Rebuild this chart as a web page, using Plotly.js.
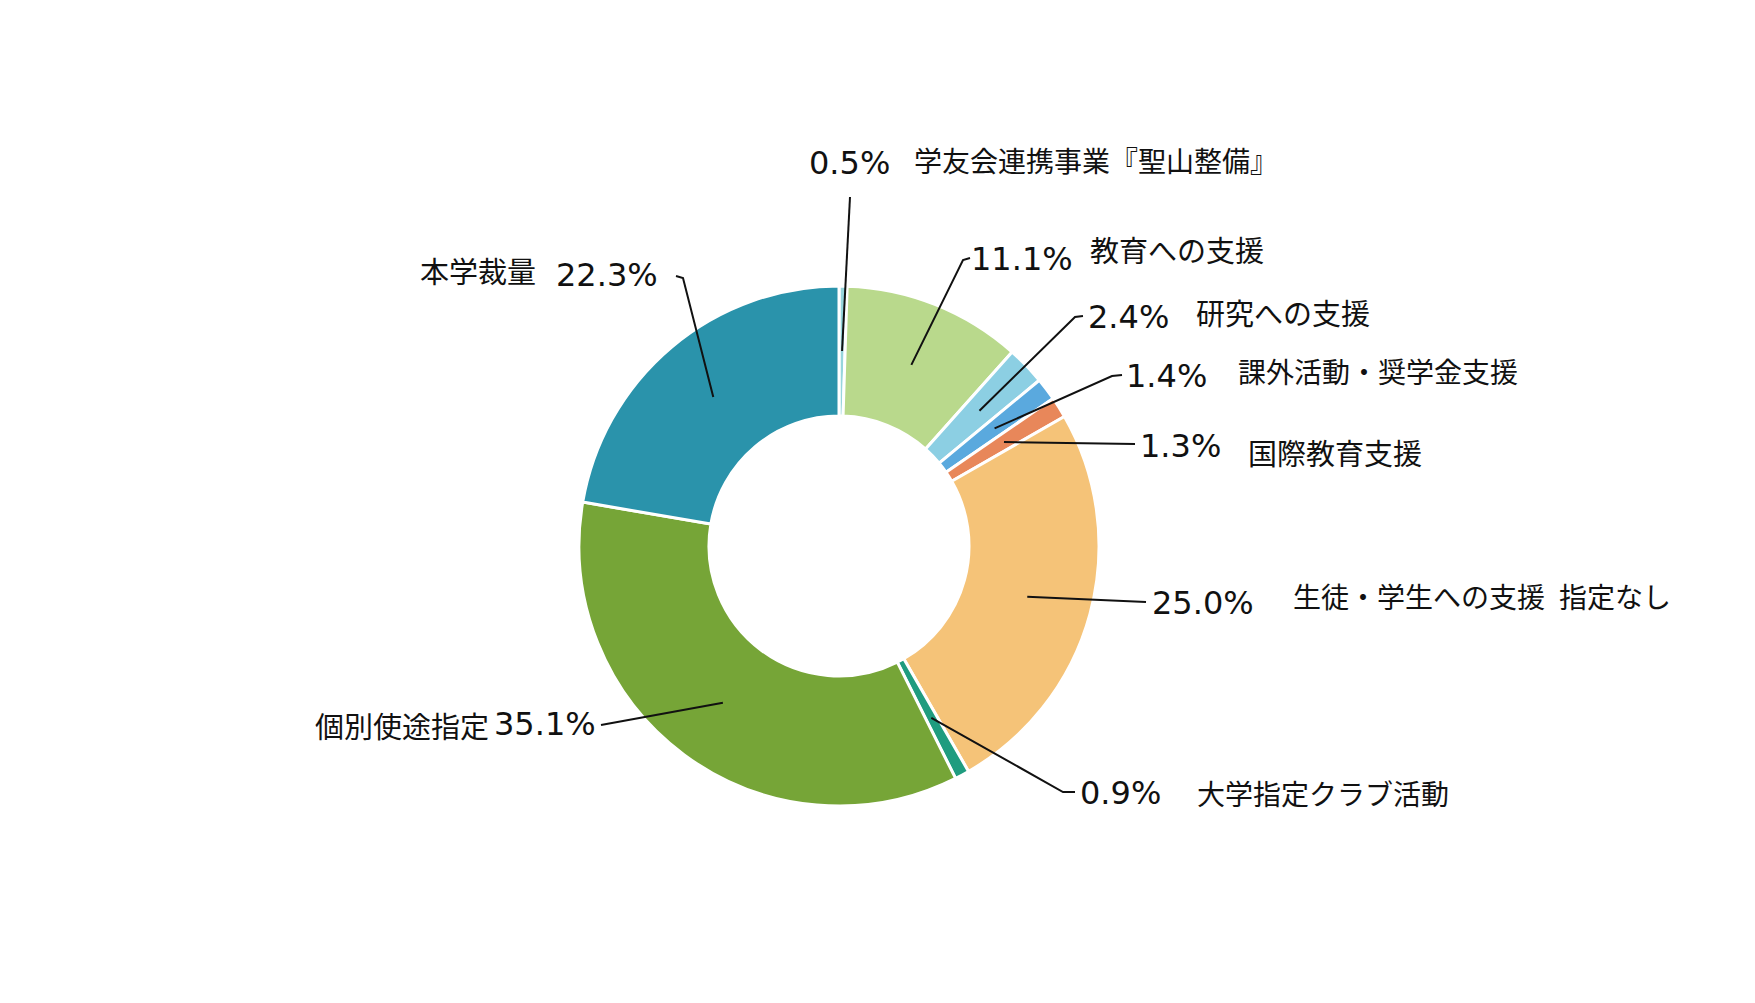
<!DOCTYPE html>
<html>
<head>
<meta charset="utf-8">
<script src="https://cdn.plot.ly/plotly-3.0.1.min.js"></script>
<style>html,body{margin:0;padding:0;background:#fff;}#chart{width:1755px;height:1003px;}</style>
</head>
<body>
<div id="chart"></div>
<script>
// ---- data ----
const categories = ['学友会連携事業『聖山整備』', '教育への支援', '研究への支援', '課外活動・奨学金支援', '国際教育支援', '生徒・学生への支援\u2002指定なし', '大学指定クラブ活動', '個別使途指定', '本学裁量'];
const values = [0.5, 11.1, 2.4, 1.4, 1.3, 25.0, 0.9, 35.1, 22.3];
const pctLabels = ['0.5%', '11.1%', '2.4%', '1.4%', '1.3%', '25.0%', '0.9%', '35.1%', '22.3%'];
const colors = ['#96d5dc', '#b9d98c', '#8ccfe3', '#5aa9de', '#e8875a', '#f5c378', '#1f9c7f', '#76a537', '#2a93ab'];

// ---- layout constants (pixels) ----
const W = 1755, H = 1003;
const CX = 839, CY = 546, R = 260;
const HOLE = 0.5;
const ANCHOR_R = 0.75 * R;

// label placement (pixels): elbow (optional), line end, percent text, name text
const labelPlacement = [
  {elbow: null,        end: [850, 197],  pct: [849, 163, 'center'], name: [912, 160, 'left'], nameSize: 28},
  {elbow: [963, 260],  end: [970, 258],  pct: [969, 259, 'left'],   name: [1088, 249, 'left']},
  {elbow: [1075, 317], end: [1083, 316], pct: [1086, 317, 'left'],  name: [1194, 312, 'left']},
  {elbow: [1112, 376], end: [1122, 375], pct: [1124, 376, 'left'],  name: [1236, 371, 'left'], nameSize: 28},
  {elbow: null,        end: [1135, 444], pct: [1138, 446, 'left'],  name: [1246, 452, 'left']},
  {elbow: null,        end: [1146, 602], pct: [1150, 603, 'left'],  name: [1291, 596, 'left'], nameSize: 28},
  {elbow: [1063, 792], end: [1075, 792], pct: [1078, 793, 'left'],  name: [1195, 793, 'left'], nameSize: 28},
  {elbow: null,        end: [601, 725],  pct: [598, 724, 'right'],  name: [491, 725, 'right']},
  {elbow: [683, 278],  end: [676, 276],  pct: [660, 275, 'right'],  name: [538, 270, 'right']}
];

const px2x = p => p / W;
const py2y = p => 1 - p / H;

const total = values.reduce((a, b) => a + b, 0);
let cum = 0;
const shapes = [];
const annotations = [];
values.forEach((v, i) => {
  const mid = (cum + v / 2) / total;
  cum += v;
  const th = 2 * Math.PI * mid;
  const ax = CX + ANCHOR_R * Math.sin(th);
  const ay = CY - ANCHOR_R * Math.cos(th);
  const lp = labelPlacement[i];
  const pts = [[ax, ay]];
  if (lp.elbow) pts.push(lp.elbow);
  pts.push(lp.end);
  const path = pts.map((p, k) => (k === 0 ? 'M' : 'L') + px2x(p[0]).toFixed(5) + ',' + py2y(p[1]).toFixed(5)).join(' ');
  shapes.push({type: 'path', xref: 'paper', yref: 'paper', path: path, line: {color: '#111', width: 2}});
  annotations.push({
    xref: 'paper', yref: 'paper', x: px2x(lp.pct[0]), y: py2y(lp.pct[1]),
    xanchor: lp.pct[2], yanchor: 'middle', showarrow: false, text: pctLabels[i],
    font: {family: 'DejaVu Sans', size: 32, color: '#111'}
  });
  annotations.push({
    xref: 'paper', yref: 'paper', x: px2x(lp.name[0]), y: py2y(lp.name[1]),
    xanchor: lp.name[2], yanchor: 'middle', showarrow: false, text: categories[i],
    font: {family: 'Noto Sans CJK JP', size: lp.nameSize || 29, color: '#111'}
  });
});

const trace = {
  type: 'pie',
  labels: categories,
  values: values,
  sort: false,
  direction: 'clockwise',
  rotation: 0,
  hole: HOLE,
  textinfo: 'none',
  hoverinfo: 'label+percent',
  marker: {colors: colors, line: {color: '#ffffff', width: 3}},
  domain: {x: [px2x(CX - R), px2x(CX + R)], y: [py2y(CY + R), py2y(CY - R)]},
  showlegend: false
};

const layout = {
  width: W, height: H,
  margin: {l: 0, r: 0, t: 0, b: 0},
  paper_bgcolor: '#ffffff',
  plot_bgcolor: '#ffffff',
  showlegend: false,
  shapes: shapes,
  annotations: annotations,
  font: {family: 'Noto Sans CJK JP', color: '#111'}
};

Plotly.newPlot('chart', [trace], layout, {displayModeBar: false, staticPlot: true});
</script>
</body>
</html>
